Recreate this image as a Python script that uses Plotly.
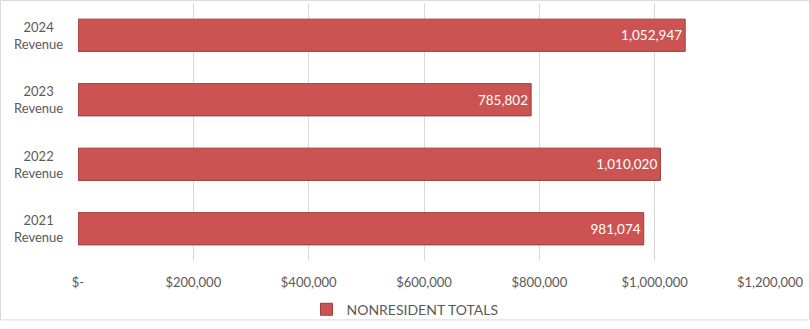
import plotly.graph_objects as go

categories = ["2021<br>Revenue", "2022<br>Revenue", "2023<br>Revenue", "2024<br>Revenue"]
values = [981074, 1010020, 785802, 1052947]
tick_vals = [0, 200000, 400000, 600000, 800000, 1000000, 1200000]
tick_text = ["$-", "$200,000", "$400,000", "$600,000", "$800,000", "$1,000,000", "$1,200,000"]
series_name = "NONRESIDENT TOTALS"

L, R, T, B = 78, 40, 3, 61
W, H = 810, 329
pw, ph = W - L - R, H - T - B

fig = go.Figure()
fig.add_trace(go.Bar(
    y=categories, x=values, orientation="h", name=series_name,
    marker=dict(color="#CB5452", line=dict(color="#9E3D3B", width=1)),
    width=0.5,
    text=[f"{v:,}" for v in values], textposition="inside", insidetextanchor="end",
    textfont=dict(color="white", size=13.5, family="Lato"),
))

# category labels, centered like the reference
for c in categories:
    fig.add_annotation(x=(38 - L) / pw, xref="paper", y=c, yref="y",
                       text=c, showarrow=False, align="center",
                       xanchor="center", yanchor="middle",
                       font=dict(size=13, color="#595959", family="Lato"))

fig.update_layout(
    width=W, height=H,
    margin=dict(l=L, r=R, t=T, b=B),
    paper_bgcolor="white", plot_bgcolor="white",
    font=dict(family="Lato", size=13, color="#595959"),
    xaxis=dict(range=[0, 1200000], tickvals=tick_vals, ticktext=tick_text,
               showgrid=True, gridcolor="#D9D9D9", gridwidth=1, zeroline=False,
               ticks="", ticklen=0, showline=False),
    yaxis=dict(showgrid=False, ticks="", showline=False, showticklabels=False),
    showlegend=True,
    legend=dict(orientation="h", x=(405 - L) / pw, xanchor="center",
                y=-(318 - T - ph) / ph, yanchor="middle",
                bgcolor="rgba(0,0,0,0)",
                font=dict(size=14, color="#595959"), itemwidth=30),
    bargap=0.5,
)
fig.update_xaxes(ticklabelstandoff=12)
fig.add_shape(type="rect", xref="paper", yref="paper",
              x0=-(L - 0.5) / pw, x1=(W - L - 0.5) / pw,
              y0=-(B - 0.5) / ph, y1=(ph + T - 0.5) / ph,
              line=dict(color="#D9D9D9", width=1), layer="below")
fig.write_html("out.html")
